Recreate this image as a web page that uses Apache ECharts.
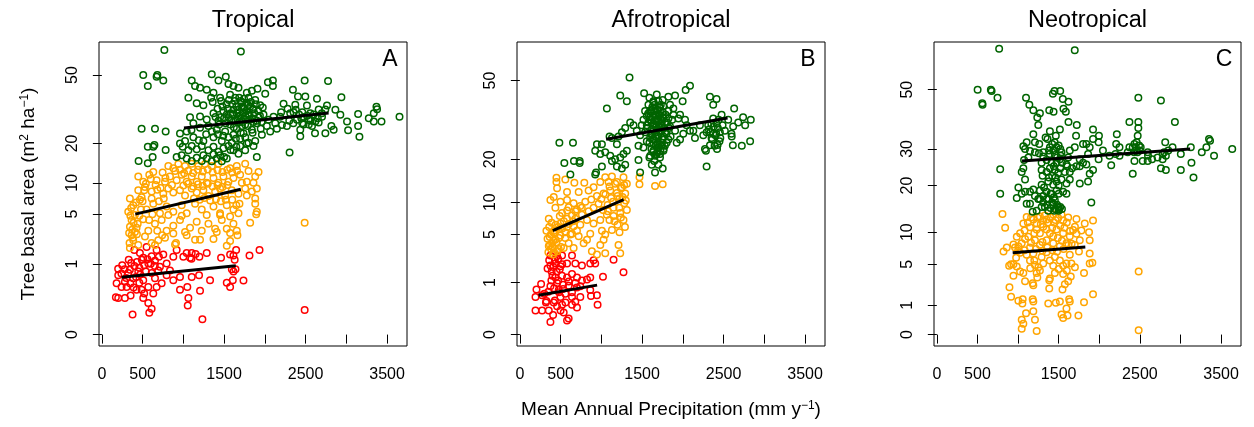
<!DOCTYPE html>
<html>
<head>
<meta charset="utf-8">
<script src="https://cdn.jsdelivr.net/npm/echarts@6/dist/echarts.min.js"></script>
<style>
  html, body { margin: 0; padding: 0; background: #fff; }
  #chart { width: 1254px; height: 427px; }
</style>
</head>
<body>
<div id="chart"></div>
<script>
// ==================== 数据 ====================

const panelTitles = ['Tropical', 'Afrotropical', 'Neotropical'];
const panelLetters = ['A', 'B', 'C'];

const xTicks = [0, 500, 1000, 1500, 2000, 2500, 3000, 3500];
const xLabels = [0, 500, 1500, 2500, 3500];
const yTicksA = [0, 1, 5, 10, 20, 50];
const yTicksB = [0, 1, 5, 10, 20, 50];
const yTicksC = [0, 1, 5, 10, 20, 30, 50];

// 纵轴幂变换指数（每个面板不同）
const yPowers = [1 / 3, 0.405, 0.542];
// 变换后纵轴范围
const yRanges = [[-0.162, 4.154], [-0.219, 5.615], [-0.389, 9.955]];

// 降水量 (mm/y), 胸高断面积 (m2/ha)
const tropGreen = [
  [767,66],[1706,65],[508,50],[564,44],[681,50],[672,49],[754,47],[488,25],[652,25],[783,24],[564,19],[631,19],[645,19.5],[783,18],[451,15],[564,14.4],[623,16],
  [1103,47],[1144,44],[1205,43],[1287,42],[1370,40.5],[1349,50.5],[1431,47],[1521,49],[1554,45],[1615,44],[1677,43],[1779,40.5],[1841,41.5],[1910,42.5],[2005,40],[2099,44],[2099,47],[2038,46],[1341,38],[1451,38],[1574,39.5],[1636,38],[1718,36],[1800,38],[1882,37],[1943,34.5],[1246,34.5],[1164,35.4],[1062,38],
  [1082,29.4],[1123,27],[1205,29.7],[1287,28.5],[1370,31],[1431,28],[1492,32],[1554,29.4],[1615,32.5],[1677,29.6],[1738,33.5],[1800,30.5],[1861,32.6],[1923,29.4],[1984,30.5],[2046,28.4],[2107,29.6],[1574,26.5],[1656,25],[1759,26.5],[1841,24.6],[1902,27],[1738,23.4],[1615,22.8],[1513,24],[1410,24.6],[1308,26],[1205,25.3],[1041,24],[959,23.3],[1021,20.8],[1123,22],[1246,20.8],[1370,22],[1472,20.8],[1595,20.2],[1697,21.5],[1800,20.2],[1882,20.8],[1964,22.8],[2066,24],[2025,26],[2128,27],[1533,30.5],[1718,29],[1820,28.4],[1451,29.4],[1656,31],
  [1600,35],[1650,34],[1700,36.5],[1750,33],[1780,35.5],[1690,27.5],[1720,26],[1760,30],[1640,28],[1580,31],[1820,34],[1860,27.5],[1530,35],[1480,34],[1420,33],
  [1360,36],[1395,29.5],[1440,26.5],[1465,36.5],[1500,29],[1520,27],[1545,33],[1560,37],[1590,28],[1605,30.5],[1620,25.5],[1630,36.5],[1660,29],[1670,32.5],[1685,38],[1695,30],[1710,34],[1725,27.5],[1735,31.5],[1745,37.5],[1765,28.5],[1775,32],[1790,26],[1795,34.5],[1810,30],[1830,36],[1845,29],[1855,33],[1870,31],[1890,35],[1905,28],[1920,32],[1940,30],[1960,27.5],[1975,33.5],[1705,23.5],[1645,21.5],[1555,22],[1490,22.5],[1425,23],[1350,24],[1280,23],[1190,21],[1100,24.5],[1650,19],[1580,18],[1500,16],[1760,22],[1850,23.5],[1950,25],
  [959,20],[992,19],[1062,17.9],[1103,19.2],[1164,18.2],[1226,19.2],[1308,17.9],[1370,19],[1431,17.5],[1492,18.5],[1554,19.2],[1615,17.9],[1677,16.9],[1759,17.9],[1779,20],[1902,16],[918,16],[980,16.5],[1041,15.6],[1103,15],[1164,15.8],[1226,15],[1287,15.6],[1349,14.9],[1410,15.6],[1472,14.9],[1533,15.6],[1246,16.5],[1370,16.8],[1451,16.5],[1697,19.2],[1861,19.2],
  [2230,35.2],[2345,42],[2407,38.6],[2374,34.8],[2312,31],[2304,17.3],[2448,29],[2497,38.6],[2489,47],[2517,34.4],[2558,31],[2620,27.7],[2640,37.5],[2616,23.4],[2743,23.4],[2776,46.6],[2763,34.4],[2817,26],[2845,24.6],[2866,32.5],[2940,38.3],[2927,30.4],[3009,27.7],[3022,24.4],[3145,30.7],[3145,26],[3161,22.2],[3276,29],[3337,31],[3370,33.8],[3378,32.7],[3337,27.7],[3432,27.7],[3653,29.6],[2661,32.6],[2702,29.6],[2579,26],[2435,22.3],[2435,24.6],[2353,31.5],[2271,26],[2189,29.6],[2210,26.3],[2148,25],[2538,28.4],[2661,27.3],[2476,26.5],[2394,28.4],[2743,32.6],
  [2300,28],[2350,27],[2420,30.5],[2460,31.5],[2480,29.5],[2520,30],[2560,28],[2600,30.5],[2650,29],[2700,31],[2380,32.5],[2460,27],[2540,26.5],[2280,33],[2200,31.5]
];
const tropOrange = [
  [816,13.7],[877,13.2],[939,14.2],[1021,13.7],[1103,14.3],[1185,13.7],[1267,14.2],[1349,13.7],[1431,14.3],[1574,13.2],[1656,13.7],[1759,14.3],[1923,12.3],[1800,12.5],[746,12.2],[631,12.3],
  [447,11.3],[508,10.2],[582,11.7],[672,10.5],[775,10.2],[836,11.3],[918,10.5],[980,11.7],[1041,10.2],[1103,11.3],[1164,10.2],[1226,11.3],[1287,10],[1370,11],[1431,10],[1492,11.3],[1554,10.2],[1615,11],[1697,11.7],[1779,10.2],[1861,10],[1882,11.3],[1718,10],
  [344,7.2],[447,8.6],[529,9.2],[611,8.4],[680,8.7],[754,8],[816,8.9],[877,8.2],[959,8.6],[1021,7.7],[1103,8.9],[1164,8.2],[1246,8.6],[1308,7.6],[1390,8.4],[1451,8.9],[1513,7.7],[1595,8.6],[1677,8],[1759,8.9],[1841,8.4],[1902,8.9],[1882,7.2],[1779,7.7],[488,7.4],[611,7.2],
  [324,5.3],[385,6.2],[467,7],[549,5.6],[631,6.4],[713,5.1],[795,6],[877,5.3],[980,6.2],[1041,5.1],[1144,6.4],[1226,5.6],[1287,4.9],[1370,6],[1451,5.1],[1533,6.2],[1615,5.6],[1677,5.1],[1689,6.4],[1882,6.4],[1902,5.3],[1451,4.9],[1574,4.7],[980,4.8],[816,4.9],[1894,5],
  [365,4.3],[426,3.5],[508,4.4],[570,3.2],[652,3.9],[734,4.3],[795,3.2],[877,3.7],[959,4.3],[1021,3.1],[1082,3.5],[1164,4.1],[1226,3.2],[1308,3.9],[1390,3.4],[1472,4.3],[1533,3.4],[1615,3.9],[1656,3.2],[1820,4],[1574,3],
  [344,1.85],[385,2.4],[447,2.05],[529,2.7],[611,2.2],[693,2.4],[775,2.6],[877,2.95],[898,2.1],[910,2.2],[1041,2.8],[1144,2.45],[1205,2.45],[1370,2.5],[1410,3.1],[1574,2.35],[1664,2.8],[1533,2],[365,2.8],[406,3.1],[652,2.05],
  [900,12.5],[960,12.8],[1010,12],[1060,12.6],[1120,12.1],[1180,12.8],[1240,12.4],[1300,12.9],[1360,12.2],[1420,12.7],[1480,12.3],[1540,12.8],[1600,12.2],[1660,12.6],[1000,9.5],[1060,9.8],[1120,9.3],[1180,9.7],[1240,9.4],[1300,9.8],[1360,9.3],[1420,9.6],[1480,9.2],[1540,9.6],[1130,7.2],[1200,7],[1260,7.3],[1330,6.9],[1400,7.1],[1460,6.8],[1520,7],[1600,7],[1650,6.2],
  [340,2.2],[335,3],[345,3.6],[350,4.8],[360,5.8],[372,3.3],[380,2.6],[390,4],[405,4.9],[420,6.6],[430,2.9],[440,3.9],[460,4.8],[480,5.6],[500,6.8],[520,8.6],[540,9.8],[600,10.8],[660,9.6],[720,9],[780,11],[860,9.6],[700,6.8],[760,7.2],[620,5],[580,4.3],[680,3.2],[740,2.8],
  [2489,4]
];
const tropRed = [
  [398,1.73],[467,1.55],[549,1.93],[611,1.37],[672,1.73],[754,1.47],[508,1.3],[570,1.03],[652,1.15],[713,0.89],[795,1.03],[877,1.35],[918,1.73],[1000,1.35],[1041,1.55],[1103,1.55],[1082,1.3],[1197,1.35],[1287,1.55],[1463,1.3],[1574,1.47],[1615,1.42],[1648,1.73],[1812,1.42],[1935,1.73],
  [250,0.95],[201,0.6],[181,0.39],[172,0.15],[201,0.14],[283,0.14],[353,0.17],[377,0.023],[426,0.26],[385,0.51],[324,0.67],[447,0.72],[508,0.46],[570,0.31],[488,0.26],[508,0.14],[570,0.09],[582,0.03],[611,0.05],[631,0.2],[672,0.31],[734,0.39],[652,0.51],[611,0.67],
  [877,0.46],[959,0.55],[959,0.26],[1049,0.31],[1062,0.14],[1054,0.07],[1205,0.24],[1193,0.6],[1328,0.46],[1533,0.4],[1574,0.31],[1607,0.46],[1738,0.45],[1103,0.55],[795,0.6],[836,0.75],[283,0.42],[304,0.31],[242,0.31],[344,0.78],[693,0.75],[1615,0.72],[1595,0.8],
  [330,1.2],[360,1.05],[400,0.92],[430,1.1],[460,0.85],[490,1.2],[520,0.95],[560,1.22],[600,1.02],[650,0.92],[700,1.35],[420,0.55],[470,0.62],[540,0.72],[300,0.52],[350,0.38],[390,0.3],[460,0.4],[520,0.2],[280,0.8],[240,0.65],[200,0.82],[1100,1.25],[1150,1.5],[1630,1.2],[1640,0.8],
  [1234,0.0104],[2489,0.043]
];

const afroGreen = [
  [1346,51.5],[1232,43],[1313,40.5],[1068,37.5],[1525,44],[1590,42],[1680,43.5],[1639,40],[1753,41],[1823,42.5],[1905,43],[1998,40.5],[2035,45.5],[2088,47.5],[2333,42.5],[2414,41.5],[2373,39],[2630,37.5],[2740,34],[2834,33],[2765,31],[2618,30.5],[2597,28],[2826,25.5],[2724,24],[2614,24.2],[2427,24.3],[2333,24.2],[2272,23],[2284,22.5],[2292,18],[2557,33],[2488,31],[2455,28.5],[2373,28],[2292,28.5],[2353,26.5],[2312,31],
  [2149,26.5],[2088,29],[2047,31],[2006,28],[1966,26],[1925,25],[1905,29],[1945,33.5],[1884,35],[1823,36.5],[1762,34],[1720,36.5],[1659,35],[1598,36.5],[1558,34.5],[1517,33],[1578,32],[1639,31.5],[1700,33],[1782,32],[1843,30.5],[1720,30],[1619,29.5],[1537,28.5],[1476,27.5],[1435,29],[1395,31],[1354,32],[1293,30],[1252,28.5],[1211,27],[1191,24.5],[1130,26.5],[1101,27],
  [1007,24.5],[946,24.5],[925,22.5],[987,21.5],[1048,22],[1109,21],[1130,19.5],[1170,20],[1232,20.5],[1272,21.5],[1313,22.5],[1293,18.5],[1252,17.5],[1191,18],[1007,18],[935,16.5],[925,16],[734,19],[734,19.5],[664,19.5],[546,19],[620,16],[485,25],[652,25],
  [1456,24],[1456,19.8],[1476,16.5],[1590,20.5],[1619,18.5],[1659,16.5],[1753,17.5],[1639,22.5],[1700,23.5],[1762,22.5],[1720,21.5],[1802,25],[1823,26],[1639,24.5],[1558,25.5],[1517,23.5],[1598,26.5],[1680,27.5],[1762,27],[1720,38],[1639,40.5],[1578,39],[1843,39],[1884,37.5],[1966,35],[2027,33],[2129,29],[2210,31],[2251,27.5],[2373,33.5],[2414,31.5],[2476,35],[2516,29],
  [1537,36.5],[1598,34],[1659,32.5],[1741,31],[1680,29.5],[1619,27.5],[1558,31],[1496,31],[1639,26],[1688,24.5],[1741,24],[1782,28.5],[1823,33.5],[1700,40.5],[1619,37],
  [1560,30],[1575,35.5],[1590,25],[1605,33],[1615,23],[1625,38],[1640,29],[1650,34],[1660,21],[1665,27],[1675,31],[1685,37],[1695,25],[1705,30.5],[1715,35],[1725,22.5],[1730,28],[1745,32.5],[1750,26],[1760,38.5],[1770,30],[1780,24],[1790,35],[1800,28],[1810,32],[1830,30],[1850,27],[1870,33],[1680,21.5],[1720,20.5],[1600,21],[1650,19.5],[1700,18.5],
  [1610,36],[1630,31],[1645,26],[1655,39],[1670,24],[1690,33.5],[1700,27],[1710,38],[1720,24.5],[1735,33],[1740,29],[1755,36],[1765,23],[1620,28],[1635,22],[1660,36.5],[1690,22],[1710,29],[1730,39],[1745,25],[1615,32],[1675,28.5],[1700,35],[1725,31.5],[1750,34],
  [2400,27.5],[2430,30],[2380,30.5],[2450,25.5],[2320,29.5],[2600,27],[2680,32],[2340,28.5],[2360,26],[2390,24],[2410,28],[2440,33],[2460,26.5],[2350,31.5],[2420,23]
];
const afroOrange = [
  [449,15.2],[449,14.2],[558,14.8],[457,12.8],[579,12],[669,14],[791,14],[722,12],[844,12.3],[905,13],[987,14.2],[1048,15.3],[1089,14.2],[1130,15.5],[1191,14.2],[1272,15.3],[1313,13.8],[1252,13],[1293,11.7],[1191,11.8],[1109,12.3],[1028,11.7],[946,11.2],[877,10.5],[803,10.1],[742,9.3],[660,9.8],[579,10.4],[498,10.1],[416,11],[375,10.4],
  [436,9],[518,8.1],[599,9.1],[681,8.4],[762,7.8],[844,8.4],[905,9],[966,9.7],[1020,8.6],[1077,9.5],[1142,10.1],[1223,10.7],[1281,9.8],[1313,8.6],[1232,8.1],[1150,7.6],[1068,7.8],[987,7],[905,6.5],[824,7],[742,6.3],[652,6.8],[579,6],[498,6.5],[416,5.5],[355,7.2],[326,5.5],
  [367,4.7],[396,4],[383,3.4],[408,2.9],[477,3.4],[538,3.5],[599,4],[660,3.5],[722,4.8],[783,4],[864,5.1],[824,4.4],[640,5.1],[558,4.6],[498,4.9],[436,4.4],[701,5.5],[1007,5.5],[1048,5],[1028,4.4],[1130,5.6],[1199,6.3],[1223,5.3],[1272,7],[987,3.8],[884,3.2],[946,2.9],[1048,3],[1211,3.8],[1232,3],
  [1468,13.7],[1468,15.3],[1753,13.7],[1659,13.3],[355,3.7],[416,5.2],[477,5.7],[579,7.2],[681,7.2],
  [340,4.5],[350,3.1],[360,6],[370,3.8],[380,5],[390,6.6],[400,3.6],[410,4.3],[420,3.1],[430,5.3],[440,6.3],[450,4.1],[460,3.2],[470,6],[480,4.6],[490,7.6],[505,3.6],[520,5.8],[540,6.8],[560,5.3],[580,8.5],[600,6.4],[620,5],[640,7.7],[660,6.1],[700,8.7],[760,9],[1000,10.6],[1050,11.5],[1080,8.4],[1100,13.2],[1120,10.8],[1150,9],[1170,13.8],[1200,11.2],[1220,9],[1240,12.8],[1260,11],[1280,13.5],[1300,10.3],[1100,7],[1160,6.8],[1240,7.4],[1290,6]
];
const afroRed = [
  [375,2.8],[457,2.75],[518,2.8],[640,2.8],[375,2],[436,2.15],[498,1.95],[579,2.15],[681,2.15],[762,2],[864,2.15],[925,2.15],[905,2.4],[1150,2.45],[1272,1.55],[1020,1.3],[824,1.15],[864,1.25],[762,1.1],[701,1.25],[640,1.45],[579,1.25],[518,1.35],[436,1.25],[387,1.1],
  [457,0.97],[530,0.9],[599,0.85],[681,0.97],[742,0.83],[375,0.83],[261,0.93],[204,0.7],[192,0.45],[192,0.15],[273,0.15],[355,0.15],[375,0.03],[408,0.09],[457,0.22],[498,0.45],[558,0.55],[640,0.45],[681,0.32],[742,0.45],[579,0.04],[599,0.055],[538,0.12],[518,0.25],[640,0.25],[701,0.2],[873,0.48],[946,0.5],[954,0.25],[864,0.68],[326,0.34],[273,0.5],[416,0.3],[477,0.68],
  [340,1.8],[360,2.4],[390,1.6],[410,1.9],[430,2.45],[450,1.6],[470,2.5],[490,1.75],[520,2.1],[400,1.35],[470,1.1],[420,0.75],[480,0.6],[530,0.72],[350,0.62],[300,0.55],[320,0.3],[430,0.35],[500,0.15],[560,0.3],[640,0.6],[700,0.78],[600,1.05]
];

const neoGreen = [
  [767,66.5],[1698,65.8],[502,50],[559,45],[563,44.5],[665,50],[674,49.5],[747,47],[780,24.2],[780,18],
  [1098,47],[1139,44.5],[1188,42.5],[1269,41.5],[1237,40],[1384,42.5],[1437,42],[1429,48.5],[1449,49.5],[1519,49.5],[1551,46.5],[1559,43],[1621,45.5],[1588,42],[1621,38.5],[1723,37.5],[1714,34],[1923,36],[1996,34],[2216,34.5],[2371,38.5],[2481,38.5],[2481,47],[2481,36.5],[2473,34],[2759,46],[2931,38.5],[2812,32],[2902,30.5],[3127,30.5],[3135,26],[3160,22],[3004,24],[3262,29],[3319,30.5],[3351,33],[3364,32.5],[3413,28],[3637,30],
  [3004,28.5],[2780,28.5],[2759,24.5],[2820,24],[2820,28],[2718,27.5],[2596,29],[2535,26.5],[2596,26.5],[2433,26.5],[2412,23],[2412,30.5],[2371,30.5],[2433,31.5],[2453,29.5],[2249,30.5],[2249,28],[2208,31.5],[2126,28],[2147,25.3],[2045,29.5],[1992,27],[1992,32],[1923,33],[1882,30.5],[1841,31.5],[1800,31.5],[1862,28.5],[1841,25.5],[1800,26],[1718,25],[1759,27],[1698,30.5],[1637,29.5],[1617,27.5],[1665,24.5],[1605,25],[1576,23.5],[1637,21.5],[1596,20.5],[1555,18.5],[1596,18],[1760,20.5],[1862,21],[1882,23],[1923,24],[1902,16],[1760,25],
  [1045,23.5],[1086,21.5],[1004,19.5],[984,17],[1045,18],[1086,18.5],[1147,18.5],[1188,19],[1106,15.7],[1147,15.7],[1180,14],[1229,14.2],[1269,16.8],[1310,16],[1372,16.8],[1413,18],[1474,18.8],[1453,16.5],[1494,15],[1506,14.5],[1445,14.2],[1372,14.2],[1290,15],[1351,18.5],[1269,18.8],[1290,20.2],[1372,21],[1433,20.2],[1474,21],[1535,21.5],[1351,23.5],[1290,24],[1302,22.5],[1392,24.5],[1453,24],[1494,23.2],[1413,26],[1453,28.2],[1515,27],[1433,29.5],[1474,30.5],[1535,29],[1392,28.5],[1351,26.8],[1310,27.8],[1257,28.7],[1208,29],[1147,29.4],[1086,30],[1065,30.8],[1106,32],[1208,32],[1261,31.5],[1310,29],[1188,34.5],[1339,33.5],[1392,35.5],[1465,34],[1515,36],[1249,37.5],[1363,33],[1392,30.5],[1527,28],[1074,26.8],[1127,27.5],[1290,26],[1065,24.5],[1351,16.8],[1433,15.5],[1249,16.8],[1208,17.5],[1310,17.5],[1596,25.5],[1474,26],[1637,23.5],
  [1330,15],[1360,15.5],[1400,14.8],[1420,16],[1460,14.5],[1480,15.5],[1500,14.2],[1520,15],[1540,14.6],[1400,18],[1440,17.2],[1500,18],[1320,19.5],[1380,22],[1420,22.5],[1460,22],[1500,20],[1520,24.5],[1440,25],[1480,27.5],[1500,31],[1420,31.5],[1380,29.5],[1450,32],[1520,30],[1540,26],
  [2450,30.5],[2470,29],[2490,31],[2500,29.5],[2460,32],[2430,29],[2510,30.5],[2600,28],[2650,27],[2780,27],[2800,29],[2850,29.5],[2350,29],[2200,28.5]
];
const neoOrange = [
  [808,13.5],[841,10.8],[821,6.8],[861,7.4],[890,4.8],[914,5],[943,3.6],[894,2.4],[914,1.6],[1004,1.3],[1057,1.4],[1053,1.1],[1098,0.55],[1045,0.28],[1065,0.16],[1045,0.05],[1188,0.65],[1208,0.28],[1229,0.02],[1188,1.25],[1180,1.4],
  [1086,3],[1065,3.9],[1025,4.1],[984,4.7],[976,5.9],[963,7.4],[943,7.9],[984,9.2],[1025,9.8],[1065,11.6],[1106,12.9],[1086,8.8],[1147,7.4],[1188,6.5],[1147,5.5],[1208,4.9],[1229,3.9],[1180,2.8],[1188,2.6],[1237,3.4],[1269,4.2],[1310,5.1],[1290,6],[1351,6.7],[1392,5.5],[1384,3.1],[1392,3.3],[1384,2.3],[1372,1.1],[1465,1.15],[1515,1.25],
  [1547,2.2],[1576,2.7],[1617,3],[1649,3.5],[1629,1.4],[1637,1.25],[1596,0.8],[1535,0.5],[1555,0.35],[1609,0.45],[1743,0.45],[1812,1.2],[1923,1.8],[1812,3.9],[1882,5.1],[1915,5.2],[1882,6.5],[1882,8.6],[1874,10],[1923,12.2],[1821,11.6],[1780,10.3],[1719,9.7],[1760,8.6],[1698,7.8],[1637,6.3],[1596,5.1],[1657,5.1],[1555,4.8],[1515,5.5],[1453,6],[1433,4.8],[1453,3.9],[1555,3.8],
  [1719,12.5],[1617,12.8],[1555,12.2],[1494,12.7],[1535,13.4],[1433,13.4],[1351,12.4],[1269,13],[1188,12.4],[1147,10.9],[1229,10.5],[1310,11],[1392,9.8],[1474,10.5],[1555,9.8],[1637,9.3],[1678,10.4],[1596,8.1],[1515,7.6],[1433,8.1],[1351,8.6],[1269,7.8],[1208,8.6],[1127,9.2],[1045,8.1],[1004,7.6],[1106,6.3],[1269,9.8],[1433,9.3],[1351,10.5],[1229,11.6],[1310,12.2],[1025,6.6],[943,5],
  [1080,10.3],[1120,11.8],[1160,12.8],[1200,9.8],[1240,12.8],[1280,11.5],[1300,8.3],[1330,13.2],[1370,11.8],[1400,12.8],[1420,10.8],[1440,11.8],[1460,12.3],[1490,9],[1520,11.2],[1540,8.5],[1570,10.8],[1600,11.8],[1640,10.2],[1660,8],[1700,11],[1160,8.2],[1220,7.2],[1300,6.9],[1360,7.4],[1420,7],[1480,6.8],[1560,7.2],[1620,7.8],[1080,7],[1000,6.9],[1150,4.5],[1200,5.5],[1250,4.6],[1500,4.4],[1600,4.2],[1700,4.6],[1750,6.8],
  [2485,4.1],[2485,0.03]
];

// 回归线端点
const tropFitGreen = [[1008, 25.2], [2783, 31.1]];
const tropFitOrange = [[410, 5.0], [1705, 8.8]];
const tropFitRed = [[242, 0.54], [1644, 0.93]];
const afroFitGreen = [[1059, 26.1], [2549, 33.7]];
const afroFitOrange = [[404, 5.5], [1274, 10.5]];
const afroFitRed = [[229, 0.5], [948, 0.88]];
const neoFitGreen = [[1049, 26.5], [3119, 30]];
const neoFitOrange = [[934, 6.6], [1828, 7.5]];

// ==================== 样式 ====================

const FONT = 'Liberation Sans, Arial, Helvetica, sans-serif';
const GREEN = '#006400';
const ORANGE = '#FFA500';
const RED = '#FF0000';

const gridLefts = [99, 517, 934];
const gridWidths = [308, 308, 307];
const gridTop = 42;
const gridHeight = 304;

const panels = [
  { ticks: yTicksA, groups: [[tropRed, RED], [tropOrange, ORANGE], [tropGreen, GREEN]], fits: [tropFitGreen, tropFitOrange, tropFitRed] },
  { ticks: yTicksB, groups: [[afroRed, RED], [afroOrange, ORANGE], [afroGreen, GREEN]], fits: [afroFitGreen, afroFitOrange, afroFitRed] },
  { ticks: yTicksC, groups: [[neoOrange, ORANGE], [neoGreen, GREEN]], fits: [neoFitGreen, neoFitOrange] }
];

// 上标用的富文本样式
const nameStyle = {
  fontSize: 19, color: '#000', fontFamily: FONT,
  rich: { sup: { fontSize: 12, verticalAlign: 'top', fontFamily: FONT, color: '#000' } }
};

// ==================== 构建图表 ====================

const grids = [];
const xAxes = [];
const yAxes = [];
const series = [];
const graphics = [];

panels.forEach((panel, i) => {
  const p = yPowers[i];
  const tf = v => Math.pow(v, p);

  grids.push({
    left: gridLefts[i], top: gridTop, width: gridWidths[i], height: gridHeight,
    show: true, borderColor: '#000', borderWidth: 1, backgroundColor: 'transparent'
  });

  xAxes.push({
    type: 'value', gridIndex: i, min: -35, max: 3745,
    axisLine: { show: false },
    splitLine: { show: false },
    axisTick: { show: true, inside: false, length: 9, customValues: xTicks, lineStyle: { color: '#000', width: 1 } },
    axisLabel: { customValues: xLabels, margin: 21, fontSize: 16, color: '#000', fontFamily: FONT, formatter: v => String(v) },
    name: i === 1 ? 'Mean Annual Precipitation (mm y{sup|−1})' : '',
    nameLocation: 'middle', nameGap: 54,
    nameTextStyle: nameStyle
  });

  yAxes.push({
    type: 'value', gridIndex: i, min: yRanges[i][0], max: yRanges[i][1],
    axisLine: { show: false },
    splitLine: { show: false },
    axisTick: { show: true, inside: false, length: 9, customValues: panel.ticks.map(tf), lineStyle: { color: '#000', width: 1 } },
    axisLabel: {
      customValues: panel.ticks.map(tf), rotate: 90, margin: 18, fontSize: 16, color: '#000', fontFamily: FONT,
      formatter: v => String(Math.round(Math.pow(v, 1 / p)))
    },
    name: i === 0 ? 'Tree basal area (m{sup|2} ha{sup|−1})' : '',
    nameLocation: 'middle', nameGap: 61, nameRotate: 90,
    nameTextStyle: nameStyle
  });

  panel.groups.forEach(([pts, color]) => {
    series.push({
      type: 'scatter', xAxisIndex: i, yAxisIndex: i,
      data: pts.map(d => [d[0], tf(d[1])]),
      symbol: 'circle', symbolSize: 6.5,
      itemStyle: { color: 'rgba(0,0,0,0)', borderColor: color, borderWidth: 1.5, opacity: 1 },
      silent: true
    });
  });

  panel.fits.forEach(fit => {
    series.push({
      type: 'line', xAxisIndex: i, yAxisIndex: i,
      data: fit.map(d => [d[0], tf(d[1])]),
      symbol: 'none', z: 5, silent: true,
      lineStyle: { color: '#000', width: 3 }
    });
  });

  const cx = gridLefts[i] + gridWidths[i] / 2;
  graphics.push({
    type: 'text', x: cx, y: 21,
    style: { text: panelTitles[i], fontSize: 23.5, fontFamily: FONT, fill: '#000', align: 'center', verticalAlign: 'middle', textAlign: 'center', textVerticalAlign: 'middle' }
  });
  graphics.push({
    type: 'text', x: gridLefts[i] + gridWidths[i] - 17, y: 60,
    style: { text: panelLetters[i], fontSize: 23, fontFamily: FONT, fill: '#000', align: 'center', verticalAlign: 'middle', textAlign: 'center', textVerticalAlign: 'middle' }
  });
});

const chart = echarts.init(document.getElementById('chart'), null, { renderer: 'canvas' });
chart.setOption({
  animation: false,
  backgroundColor: '#fff',
  grid: grids,
  xAxis: xAxes,
  yAxis: yAxes,
  series: series,
  graphic: graphics
});
</script>
</body>
</html>
